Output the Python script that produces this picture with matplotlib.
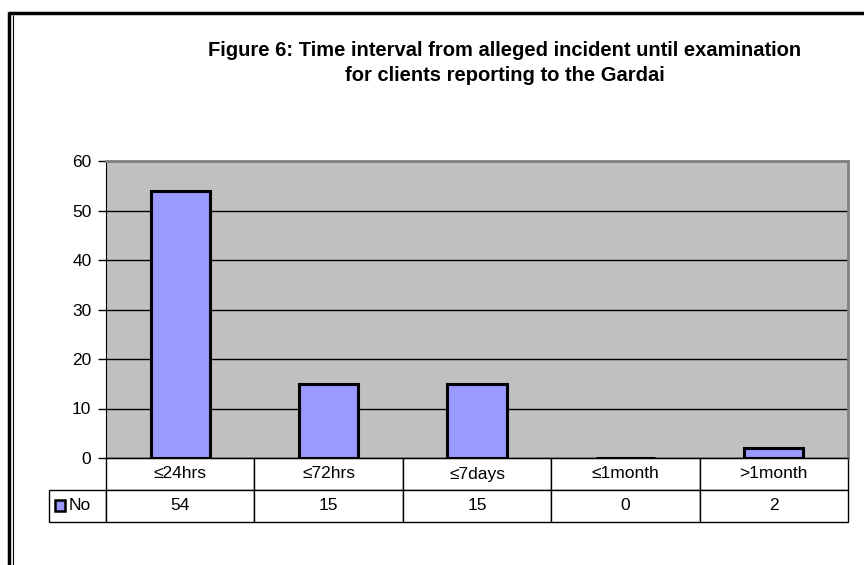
import matplotlib.pyplot as plt
import numpy as np
from matplotlib.patches import Rectangle
from matplotlib.lines import Line2D

plt.rcParams['font.family'] = ['Liberation Sans', 'DejaVu Sans']

# data
categories = ['≤24hrs', '≤72hrs', '≤7days', '≤1month', '>1month']
counts = [54, 15, 15, 0, 2]
series_name = 'No'

fig = plt.figure(figsize=(8.64, 5.65), dpi=100)
ax = fig.add_axes([106/864, 1 - 458/565, 742/864, 297/565])

x = np.arange(len(categories))
ax.set_facecolor('#C0C0C0')
ax.bar(x, counts, width=0.4, color='#9999FF', edgecolor='black', linewidth=2.2, zorder=3)
ax.set_xlim(-0.5, len(categories) - 0.5)
ax.set_ylim(0, 60)
ax.set_yticks(range(0, 61, 10))
ax.yaxis.grid(True, color='black', linewidth=1)
ax.set_axisbelow(True)
ax.set_xticks([])
ax.tick_params(axis='y', direction='out', length=5.5, width=1, labelsize=12.5, pad=5)

for s in ['top', 'right']:
    ax.spines[s].set_color('#808080')
    ax.spines[s].set_linewidth(2)
ax.spines['left'].set_color('black')
ax.spines['bottom'].set_color('black')

# data table under the chart (first column holds the legend key)
row_w = 57 / 742
tbl = ax.table(cellText=[[''] + [str(v) for v in counts]],
               colLabels=[''] + categories,
               colWidths=[row_w] + [0.2] * len(categories),
               cellLoc='center',
               bbox=[-row_w, -64/297, 1 + row_w, 64/297])
tbl.auto_set_font_size(False)
tbl.set_fontsize(12.5)
for (r, c), cell in tbl.get_celld().items():
    cell.set_linewidth(1)
    cell.set_edgecolor('black')
    cell.set_facecolor('white')
    if r == 0 and c == 0:
        cell.visible_edges = ''

# legend key inside the first cell
fig.patches.append(Rectangle((55/864, 1 - 511/565), 10/864, 11/565,
                             transform=fig.transFigure, facecolor='#9999FF',
                             edgecolor='black', linewidth=1.8))
fig.text(69/864, 1 - 506/565, series_name, fontsize=12.5, va='center', ha='left')

fig.text(505/864, 1 - 63/565,
         'Figure 6: Time interval from alleged incident until examination\nfor clients reporting to the Gardai',
         ha='center', va='center', fontsize=14.5, fontweight='bold', linespacing=1.4)

# outer frame (left and top edges visible)
fig.lines.append(Line2D([9/864, 9/864], [0, 1 - 12/565], transform=fig.transFigure,
                        color='black', linewidth=2.5, solid_capstyle='butt'))
fig.lines.append(Line2D([12.5/864, 12.5/864], [0, 1 - 15/565], transform=fig.transFigure,
                        color='black', linewidth=0.8, solid_capstyle='butt'))
fig.lines.append(Line2D([8/864, 1], [1 - 13/565, 1 - 13/565], transform=fig.transFigure,
                        color='black', linewidth=2.5, solid_capstyle='butt'))

fig.savefig('out.png', dpi=100)
